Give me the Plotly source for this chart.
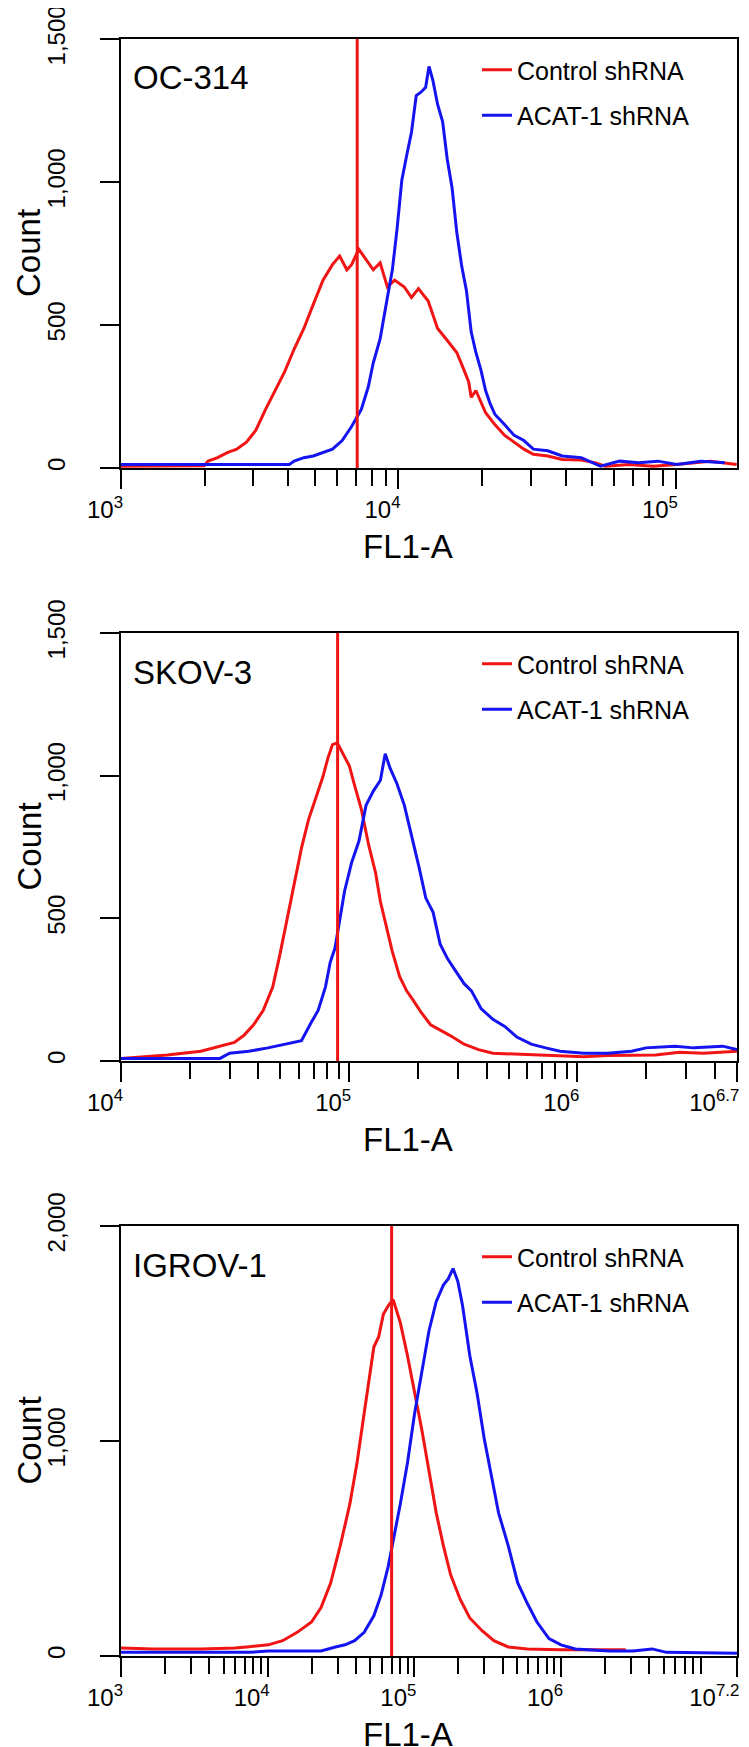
import numpy as np
import plotly.graph_objects as go

# ---------------- data ----------------
# x values are given as log10(FL1-A), y values are event counts
panel_names = ["OC-314", "SKOV-3", "IGROV-1"]
series_names = ["Control shRNA", "ACAT-1 shRNA"]

# OC-314
oc314_ctrl_log = [3.000, 3.300, 3.314, 3.348, 3.383, 3.417, 3.452, 3.486, 3.521, 3.555, 3.590, 3.624, 3.659,
                  3.693, 3.728, 3.762, 3.788, 3.814, 3.831, 3.857, 3.883, 3.909, 3.934, 3.960, 3.986, 4.021,
                  4.047, 4.072, 4.107, 4.141, 4.176, 4.210, 4.236, 4.253, 4.262, 4.279, 4.314, 4.348, 4.383,
                  4.417, 4.452, 4.486, 4.538, 4.590, 4.659, 4.710, 4.745, 4.831, 4.917, 5.003, 5.124, 5.219]
oc314_ctrl_cnt = [6, 8, 24, 36, 54, 66, 90, 132, 205, 271, 337, 416, 488,
                  572, 657, 711, 741, 693, 711, 765, 729, 693, 717, 633, 657, 633,
                  596, 627, 584, 488, 446, 404, 343, 301, 247, 271, 193, 151, 114,
                  90, 66, 48, 42, 30, 28, 18, 6, 12, 6, 12, 24, 12]
oc314_acat_log = [3.000, 3.607, 3.624, 3.659, 3.693, 3.728, 3.762, 3.797, 3.831, 3.866, 3.891, 3.909, 3.934,
                  3.960, 3.978, 3.995, 4.012, 4.029, 4.047, 4.064, 4.081, 4.098, 4.110, 4.124, 4.141, 4.159,
                  4.176, 4.193, 4.210, 4.228, 4.245, 4.262, 4.279, 4.297, 4.314, 4.331, 4.348, 4.383, 4.417,
                  4.452, 4.486, 4.538, 4.590, 4.659, 4.728, 4.797, 4.866, 4.934, 5.003, 5.090, 5.176]
oc314_acat_cnt = [12, 12, 24, 36, 42, 54, 66, 96, 145, 205, 283, 367, 452,
                  596, 693, 837, 1006, 1090, 1175, 1302, 1314, 1331, 1404, 1355, 1271, 1211,
                  1078, 981, 825, 705, 620, 476, 404, 343, 271, 223, 187, 151, 114,
                  96, 66, 60, 42, 36, 6, 24, 18, 24, 12, 24, 18]

# SKOV-3
skov3_ctrl_log = [4.000, 4.203, 4.350, 4.434, 4.497, 4.539, 4.581, 4.623, 4.665, 4.696, 4.728, 4.759, 4.791,
                  4.822, 4.854, 4.885, 4.906, 4.927, 4.948, 4.969, 5.001, 5.022, 5.053, 5.085, 5.116, 5.137,
                  5.168, 5.189, 5.221, 5.252, 5.284, 5.315, 5.357, 5.399, 5.441, 5.504, 5.567, 5.630, 5.735,
                  5.819, 5.924, 6.029, 6.133, 6.238, 6.343, 6.448, 6.553, 6.700]
skov3_ctrl_cnt = [9, 21, 34, 52, 65, 90, 127, 177, 259, 371, 496, 609, 746,
                  846, 921, 996, 1059, 1109, 1115, 1084, 1034, 971, 884, 759, 659, 559,
                  459, 384, 296, 246, 209, 171, 127, 109, 90, 59, 40, 27, 24,
                  21, 19, 15, 19, 21, 21, 31, 27, 34]
skov3_acat_log = [4.000, 4.434, 4.476, 4.560, 4.644, 4.728, 4.791, 4.833, 4.864, 4.896, 4.917, 4.938, 4.959,
                  4.980, 5.011, 5.043, 5.074, 5.106, 5.137, 5.158, 5.179, 5.210, 5.242, 5.273, 5.305, 5.336,
                  5.368, 5.399, 5.431, 5.462, 5.504, 5.536, 5.578, 5.630, 5.682, 5.735, 5.798, 5.861, 5.924,
                  6.029, 6.133, 6.238, 6.301, 6.427, 6.511, 6.637, 6.700]
skov3_acat_cnt = [9, 9, 27, 34, 46, 59, 71, 134, 177, 259, 346, 396, 496,
                  596, 696, 771, 896, 946, 984, 1077, 1027, 971, 896, 796, 684, 571,
                  521, 409, 359, 321, 271, 246, 184, 146, 121, 84, 59, 46, 34,
                  27, 27, 34, 46, 52, 46, 52, 40]

# IGROV-1
igrov1_ctrl_log = [3.000, 3.219, 3.546, 3.775, 3.857, 4.004, 4.102, 4.201, 4.299, 4.364, 4.430, 4.495, 4.560,
                   4.609, 4.658, 4.691, 4.724, 4.757, 4.789, 4.822, 4.855, 4.904, 4.953, 5.002, 5.051, 5.100,
                   5.149, 5.198, 5.247, 5.313, 5.378, 5.460, 5.542, 5.640, 5.771, 6.000, 6.163, 6.441]
igrov1_ctrl_cnt = [37, 33, 33, 37, 42, 52, 71, 110, 158, 225, 340, 513, 706,
                   898, 1129, 1283, 1437, 1485, 1590, 1629, 1658, 1552, 1398, 1225, 1052, 860,
                   667, 513, 379, 263, 177, 119, 71, 42, 33, 29, 29, 29]
igrov1_acat_log = [3.000, 3.873, 4.004, 4.364, 4.462, 4.528, 4.593, 4.658, 4.724, 4.773, 4.822, 4.855, 4.904,
                   4.953, 5.002, 5.051, 5.100, 5.149, 5.198, 5.231, 5.264, 5.296, 5.329, 5.378, 5.427, 5.476,
                   5.525, 5.574, 5.640, 5.705, 5.771, 5.836, 5.918, 6.000, 6.098, 6.327, 6.490, 6.621, 6.719,
                   7.200]
igrov1_acat_cnt = [17, 17, 23, 23, 42, 52, 71, 110, 187, 283, 417, 533, 706,
                   898, 1129, 1321, 1513, 1648, 1725, 1754, 1802, 1744, 1629, 1398, 1225, 1013,
                   844, 667, 513, 340, 244, 158, 81, 52, 33, 23, 23, 33, 17,
                   13]

# gate marker (FL1-A value of the red vertical line)
gate_values = [7100, 89000, 70000]

# axis settings
x_log_ranges = [(3.0, 5.22), (4.0, 6.7), (3.0, 7.2)]
x_major_exps = [[3, 4, 5], [4, 5, 6, 6.6995], [3, 4, 5, 6, 7.1995]]
NB = "\u00a0"
x_major_text = [["10<sup>3</sup>", "10<sup>4</sup>", "10<sup>5</sup>"],
                ["10<sup>4</sup>", "10<sup>5</sup>", "10<sup>6</sup>", "10<sup>6.7</sup>" + NB * 2],
                ["10<sup>3</sup>", "10<sup>4</sup>", "10<sup>5</sup>", "10<sup>6</sup>", "10<sup>7.2</sup>" + NB * 2]]
y_max = [1500, 1500, 2000]
y_tick_vals = [[0, 500, 1000, 1500], [0, 500, 1000, 1500], [0, 1000, 2000]]
y_tick_text = [["0", "500", "1,000", "1,500"], ["0", "500", "1,000", "1,500"], ["0", "1,000", "2,000"]]
x_title = "FL1-A"
y_title = "Count"

ctrl_logs = [oc314_ctrl_log, skov3_ctrl_log, igrov1_ctrl_log]
ctrl_cnts = [oc314_ctrl_cnt, skov3_ctrl_cnt, igrov1_ctrl_cnt]
acat_logs = [oc314_acat_log, skov3_acat_log, igrov1_acat_log]
acat_cnts = [oc314_acat_cnt, skov3_acat_cnt, igrov1_acat_cnt]

# ---------------- layout geometry (pixels) ----------------
W, H = 749, 1747
BOX_L, BOX_R = 113, 729
BOX_TOPS = [31, 625, 1218]
BOX_BOTS = [460, 1053, 1648]
RED = "#f01414"
BLUE = "#1414f0"
FONT = "Liberation Sans, Arial, sans-serif"


def fx(p):
    return p / W


def fy(p):
    return 1 - p / H


fig = go.Figure()
layout = dict(
    template="none",
    width=W, height=H, margin=dict(l=0, r=0, t=0, b=0, pad=0, autoexpand=False),
    paper_bgcolor="white", plot_bgcolor="white",
    font=dict(family=FONT, color="black", size=24),
    showlegend=True,
)
annotations = []

for i in range(3):
    sfx = "" if i == 0 else str(i + 1)
    xa, ya = "x" + sfx, "y" + sfx
    leg = "legend" + sfx
    fig.add_trace(go.Scatter(
        x=10 ** np.array(ctrl_logs[i]), y=ctrl_cnts[i], mode="lines",
        line=dict(color=RED, width=3), name=series_names[0],
        xaxis=xa, yaxis=ya, legend=leg, legendgroup=f"c{i}"))
    fig.add_trace(go.Scatter(
        x=10 ** np.array(acat_logs[i]), y=acat_cnts[i], mode="lines",
        line=dict(color=BLUE, width=3), name=series_names[1],
        xaxis=xa, yaxis=ya, legend=leg, legendgroup=f"a{i}"))
    fig.add_trace(go.Scatter(
        x=[gate_values[i], gate_values[i]], y=[0, y_max[i]], mode="lines",
        line=dict(color=RED, width=3), showlegend=False, hoverinfo="skip",
        xaxis=xa, yaxis=ya))

    lo, hi = x_log_ranges[i]
    minor_vals = [m * 10 ** e for e in range(int(lo), int(np.ceil(hi)) + 1)
                  for m in range(2, 10) if lo < np.log10(m * 10 ** e) < hi]
    layout["xaxis" + sfx] = dict(
        type="log", range=[lo, hi], domain=[fx(BOX_L), fx(BOX_R)], anchor=ya,
        automargin=False,
        showline=True, linecolor="black", linewidth=2, mirror=True,
        showgrid=False, zeroline=False,
        ticks="outside", ticklen=19, tickwidth=2, tickcolor="black",
        tickmode="array", tickvals=[10 ** e for e in x_major_exps[i]], ticktext=x_major_text[i],
        tickfont=dict(size=24, family=FONT), ticklabelshift=-16, ticklabeloverflow="allow",
        minor=dict(tickmode="array", tickvals=minor_vals, ticks="outside", ticklen=16,
                   tickwidth=2, tickcolor="black", showgrid=False),
    )
    layout["yaxis" + sfx] = dict(
        range=[0, y_max[i]], domain=[fy(BOX_BOTS[i]), fy(BOX_TOPS[i])], anchor=xa,
        automargin=False,
        showline=True, linecolor="black", linewidth=2, mirror=True,
        showgrid=False, zeroline=False,
        ticks="outside", ticklen=19, tickwidth=2, tickcolor="black",
        tickmode="array", tickvals=y_tick_vals[i], ticktext=y_tick_text[i],
        tickangle=-90, tickfont=dict(size=24, family=FONT), ticklabelstandoff=25,
        ticklabeloverflow="allow",
    )
    layout[leg] = dict(
        x=fx(469), y=fy(BOX_TOPS[i] + 8), xanchor="left", yanchor="top",
        bgcolor="rgba(0,0,0,0)", borderwidth=0, font=dict(size=25, family=FONT),
        traceorder="grouped", tracegroupgap=10, itemwidth=30,
    )
    # panel label
    annotations.append(dict(text=panel_names[i], x=fx(123), y=fy(BOX_TOPS[i] + 39),
                            xref="paper", yref="paper", xanchor="left", yanchor="middle",
                            showarrow=False, font=dict(size=33, family=FONT)))
    # axis titles
    annotations.append(dict(text=x_title, x=fx(400), y=fy(BOX_BOTS[i] + 78),
                            xref="paper", yref="paper", xanchor="center", yanchor="middle",
                            showarrow=False, font=dict(size=33, family=FONT)))
    annotations.append(dict(text=y_title, x=0, y=fy((BOX_TOPS[i] + BOX_BOTS[i]) / 2),
                            xref="paper", yref="paper", xanchor="left", yanchor="middle",
                            textangle=-90, showarrow=False, font=dict(size=33, family=FONT)))

layout["annotations"] = annotations
fig.update_layout(**layout)
fig.write_html("out.html")
